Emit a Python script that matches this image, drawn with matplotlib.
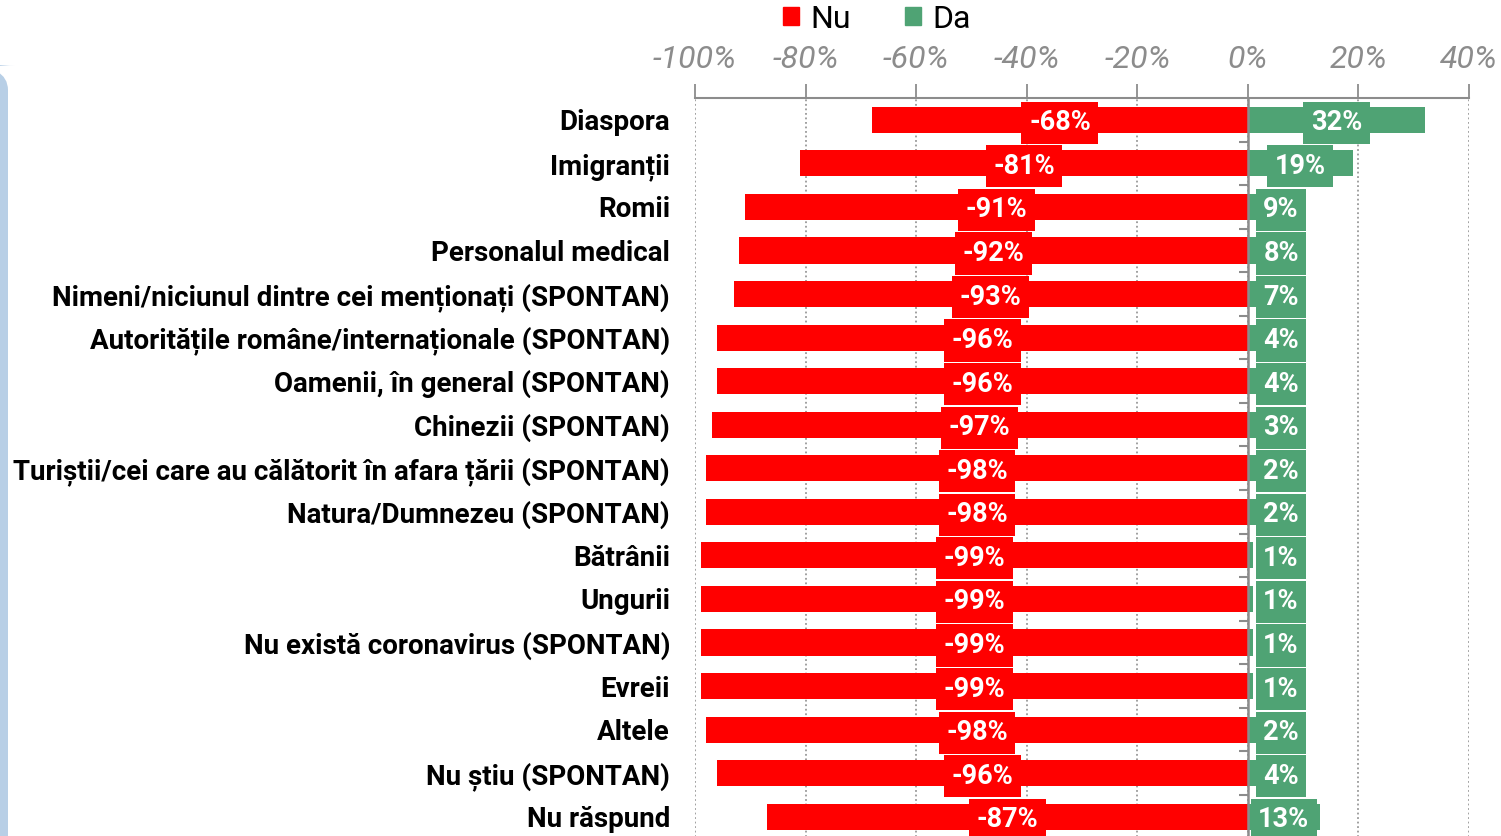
import matplotlib
matplotlib.use("Agg")
import matplotlib.pyplot as plt
from matplotlib.patches import FancyBboxPatch
import numpy as np

categories = [
    "Diaspora",
    "Imigranții",
    "Romii",
    "Personalul medical",
    "Nimeni/niciunul dintre cei menționați (SPONTAN)",
    "Autoritățile române/internaționale (SPONTAN)",
    "Oamenii, în general (SPONTAN)",
    "Chinezii (SPONTAN)",
    "Turiștii/cei care au călătorit în afara țării (SPONTAN)",
    "Natura/Dumnezeu (SPONTAN)",
    "Bătrânii",
    "Ungurii",
    "Nu există coronavirus (SPONTAN)",
    "Evreii",
    "Altele",
    "Nu știu (SPONTAN)",
    "Nu răspund",
]
nu = [-68, -81, -91, -92, -93, -96, -96, -97, -98, -98, -99, -99, -99, -99, -98, -96, -87]
da = [32, 19, 9, 8, 7, 4, 4, 3, 2, 2, 1, 1, 1, 1, 2, 4, 13]
xticks = [-100, -80, -60, -40, -20, 0, 20, 40]

RED = "#ff0000"
GREEN = "#4fa374"
GREY = "#8c8c8c"
FONT = ["Roboto", "DejaVu Sans"]

fig = plt.figure(figsize=(15.01, 8.36), dpi=100)
ax = fig.add_axes([695 / 1501, -2.5 / 836, 774 / 1501, 740.5 / 836])

y = np.arange(len(categories))
ax.barh(y, nu, height=0.6, color=RED, zorder=3)
ax.barh(y, da, height=0.6, color=GREEN, zorder=3)

ax.set_xlim(-100, 40)
ax.set_ylim(len(categories) - 0.5, -0.5)
ax.set_xticks(xticks)
ax.set_xticklabels([f"{t}%" for t in xticks], fontsize=23, style="italic",
                   color=GREY, family=FONT)
ax.xaxis.tick_top()
ax.tick_params(axis="x", direction="out", length=10, width=1.3, color=GREY, pad=7)
ax.xaxis.grid(True, linestyle=(0, (1, 1.5)), color="#999999", linewidth=1.3, zorder=0)

ax.set_yticks(y)
ax.set_yticklabels(categories, fontsize=20, fontweight="bold", family=FONT)
ax.tick_params(axis="y", length=0, pad=18)

for s in ["left", "right", "bottom"]:
    ax.spines[s].set_visible(False)
ax.spines["top"].set_color(GREY)
ax.spines["top"].set_linewidth(1.5)
ax.axvline(0, color=GREY, linewidth=1.8, zorder=4)
ax.hlines(np.arange(0.5, len(categories)), -1.6, 0, color=GREY, linewidth=1.5, zorder=4)

for i in range(len(categories)):
    ax.text(nu[i] / 2, i, f"{nu[i]}%", ha="center", va="center_baseline", color="white",
            fontsize=19.5, fontweight="bold", family=FONT, zorder=5,
            bbox=dict(boxstyle="square,pad=0.28", fc=RED, ec="none"))
    ax.text(max(da[i] / 2, 6), i, f"{da[i]}%", ha="center", va="center_baseline", color="white",
            fontsize=19.5, fontweight="bold", family=FONT, zorder=5,
            bbox=dict(boxstyle="square,pad=0.28", fc=GREEN, ec="none"))

# legend
h1 = plt.Rectangle((0, 0), 1, 1, color=RED)
h2 = plt.Rectangle((0, 0), 1, 1, color=GREEN)
fig.legend([h1, h2], ["Nu", "Da"], loc="center", bbox_to_anchor=(877 / 1501, 1 - 19 / 836),
           ncol=2, frameon=False, handlelength=0.5, handleheight=0.5, handletextpad=0.35,
           columnspacing=1.7, prop={"family": FONT, "size": 23})

# decorative panel on the left
fig.patches.append(FancyBboxPatch((-30 / 1501, -0.2), 38 / 1501, 1.0 + 0.2 - 65 / 836,
                                  boxstyle="round,pad=0,rounding_size=0.03",
                                  transform=fig.transFigure, fc="#b8cfe6", ec="none"))

fig.savefig("out.png", dpi=100)
